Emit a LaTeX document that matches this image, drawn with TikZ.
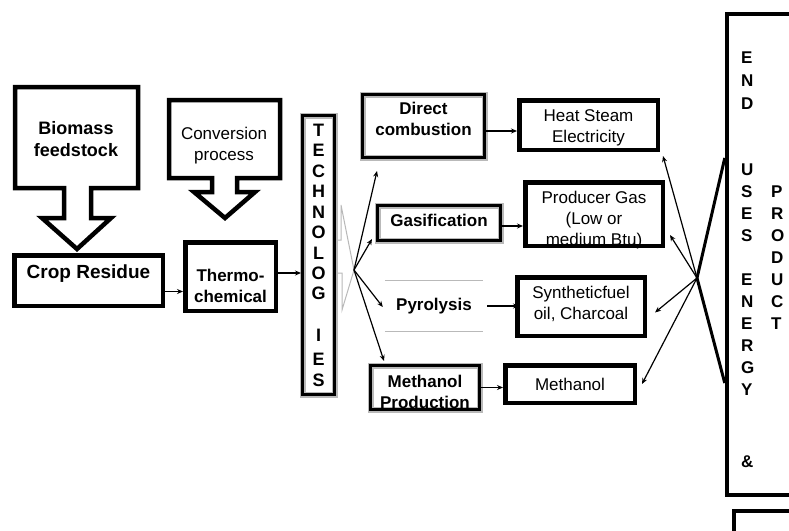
\documentclass[tikz,border=0pt]{standalone}
\usepackage{fontspec}
\setmainfont{Liberation Sans}
\usetikzlibrary{calc,arrows.meta}
\tikzset{
  box/.style={draw=black, line width=4.5pt, inner sep=0pt},
  gbox/.style={draw=black, line width=3pt, inner sep=0pt, preaction={draw=gray!55, line width=6pt}},
  bl/.style={font=\bfseries\fontsize{17}{21}\selectfont, align=center, inner sep=0pt},
  rl/.style={font=\fontsize{17}{21}\selectfont, align=center, inner sep=0pt},
  col/.style={font=\bfseries\fontsize{17}{20}\selectfont, inner sep=0pt, anchor=west},
  arr/.style={draw=black, line width=1.2pt, -{Stealth[length=6pt,width=5pt]}},
  blk/.style={draw=black, line width=4.5pt, line join=miter},
  thk/.style={draw=black, line width=3pt},
  gl/.style={draw=gray!55, line width=1pt}
}
\begin{document}
\begin{tikzpicture}[x=1pt, y=-1pt]
  \useasboundingbox (0,0) rectangle (789,530);
  \clip (0,0) rectangle (789,530);

  % block arrows
  \draw[blk] (15,87) -- (138,87) -- (138,188) -- (91,188) -- (91,218) -- (111,218)
    -- (77,249) -- (42,218) -- (64,218) -- (64,188) -- (15,188) -- cycle;
  \node[bl, font=\bfseries\fontsize{18}{22}\selectfont] (bio) at (76,139) {Biomass\\feedstock};
  \draw[blk] (169,100) -- (280,100) -- (280,178) -- (237,178) -- (237,192) -- (255,192)
    -- (225,218) -- (194,192) -- (212,192) -- (212,178) -- (169,178) -- cycle;
  \node[rl] (conv) at (224,146) {Conversion\\process};

  % left boxes
  \node[box, minimum width=148.5pt, minimum height=50.5pt] (crop) at (88.5,280.5) {};
  \node[bl, font=\bfseries\fontsize{19}{21}\selectfont] (cropL) at ($(crop)+(0,-7)$) {Crop Residue};
  \node[box, minimum width=90.5pt, minimum height=68.5pt] (thermo) at (230.5,276.5) {};
  \node[bl] (thermoL) at ($(thermo)+(0,9)$) {Thermo-\\chemical};

  \node[gbox, minimum width=32pt, minimum height=279pt] (tech) at (318.5,255) {};
  \foreach \l/\y [count=\i] in {T/130,E/150,C/171,H/191,N/212,O/232,L/253,O/273,G/293,I/335,E/359,S/380}
    \node[bl, font=\bfseries\fontsize{18}{20}\selectfont] (tech\i) at (318.5,\y) {\l};

  % technologies
  \node[gbox, minimum width=122pt, minimum height=63pt] (direct) at (423.5,126) {};
  \node[bl] (directL) at ($(direct)+(0,-7.5)$) {Direct\\combustion};
  \node[gbox, minimum width=123pt, minimum height=35pt] (gas) at (439,223) {};
  \node[bl] (gasL) at ($(gas)+(0,-3)$) {Gasification};
  \node[bl, minimum width=98pt, minimum height=50pt] (pyro) at (434,306) {Pyrolysis};
  \draw[gl] (pyro.north west) -- (pyro.north east);
  \draw[gl] (pyro.south west) -- (pyro.south east);
  \node[gbox, minimum width=109pt, minimum height=44pt] (methP) at (425,387.5) {};
  \node[bl] (methPL) at ($(methP)+(0,4.5)$) {Methanol\\Production};

  % products
  \node[box, minimum width=138.5pt, minimum height=49.5pt] (heat) at (588.5,125) {};
  \node[rl] (heatL) at ($(heat)+(0,2.5)$) {Heat Steam\\Electricity};
  \node[box, minimum width=137.5pt, minimum height=63.5pt] (prod) at (594,214) {};
  \node[rl] (prodL) at ($(prod)+(0,6)$) {Producer Gas\\(Low or\\medium Btu)};
  \node[box, minimum width=127.5pt, minimum height=58.5pt] (syn) at (581,306.5) {};
  \node[rl] (synL) at ($(syn)+(0,-3)$) {Syntheticfuel\\oil, Charcoal};
  \node[box, minimum width=129.5pt, minimum height=37.5pt] (meth) at (570,384) {};
  \node[rl] (methL) at (meth) {Methanol};

  % end uses
  \node[box, minimum width=120pt, minimum height=481pt] (endbox) at (787,254.5) {};
  \draw[box] (734,540) -- (734,511) -- (800,511);
  \foreach \l/\y [count=\i] in {E/58,N/81,D/104,U/170,S/192,E/214,S/236,E/280,N/302,E/324,R/346,G/368,Y/390,\&/462}
    \node[col] (end\i) at (741,\y) {\l};
  \foreach \l/\y [count=\i] in {P/192,R/214,O/236,D/258,U/280,C/302,T/324}
    \node[col] (prc\i) at (771,\y) {\l};

  % connectors
  \draw[arr] ([yshift=-11pt]crop.east) -- ([yshift=-11pt]crop.east -| thermo.west);
  \draw[arr] ([yshift=3.5pt]thermo.east) -- ([yshift=3.5pt]thermo.east -| tech.west);

  \coordinate (lapex) at (354,270);
  \draw[gl] ([yshift=15pt]tech.east) -- ++(5,0) -- ++(0,-35) -- (lapex) -- (342,310) -- (342,273) -- ([yshift=-18pt]tech.east);
  \draw[arr] (lapex) -- ([xshift=16pt,yshift=-12pt]direct.south west);
  \draw[arr] (lapex) -- ([xshift=-4pt,yshift=3pt]gas.south west);
  \draw[arr] (lapex) -- ([xshift=-2pt,yshift=-1pt]pyro.west);
  \draw[arr] (lapex) -- ([xshift=15pt,yshift=3pt]methP.north west);

  \draw[arr] ([yshift=-5pt]direct.east) -- ([yshift=-5pt]direct.east -| heat.west);
  \draw[arr] ([yshift=-3pt]gas.east) -- ([yshift=-3pt]gas.east -| prod.west);
  \draw[arr] ([xshift=4pt]pyro.east) -- ([xshift=4pt]pyro.east -| syn.west);
  \draw[arr] (methP.east) -- (methP.east -| meth.west);

  \coordinate (rapex) at (697,278);
  \draw[arr] (rapex) -- ([xshift=3pt,yshift=-4pt]heat.south east);
  \draw[arr] (rapex) -- ([xshift=5pt,yshift=-21pt]prod.east);
  \draw[arr] (rapex) -- ([xshift=8pt,yshift=-6pt]syn.east);
  \draw[arr] (rapex) -- ([xshift=5pt]meth.east);
  \draw[thk] (rapex) -- ([yshift=96.5pt]endbox.west);
  \draw[thk] (rapex) -- ([yshift=-128.5pt]endbox.west);
\end{tikzpicture}
\end{document}
